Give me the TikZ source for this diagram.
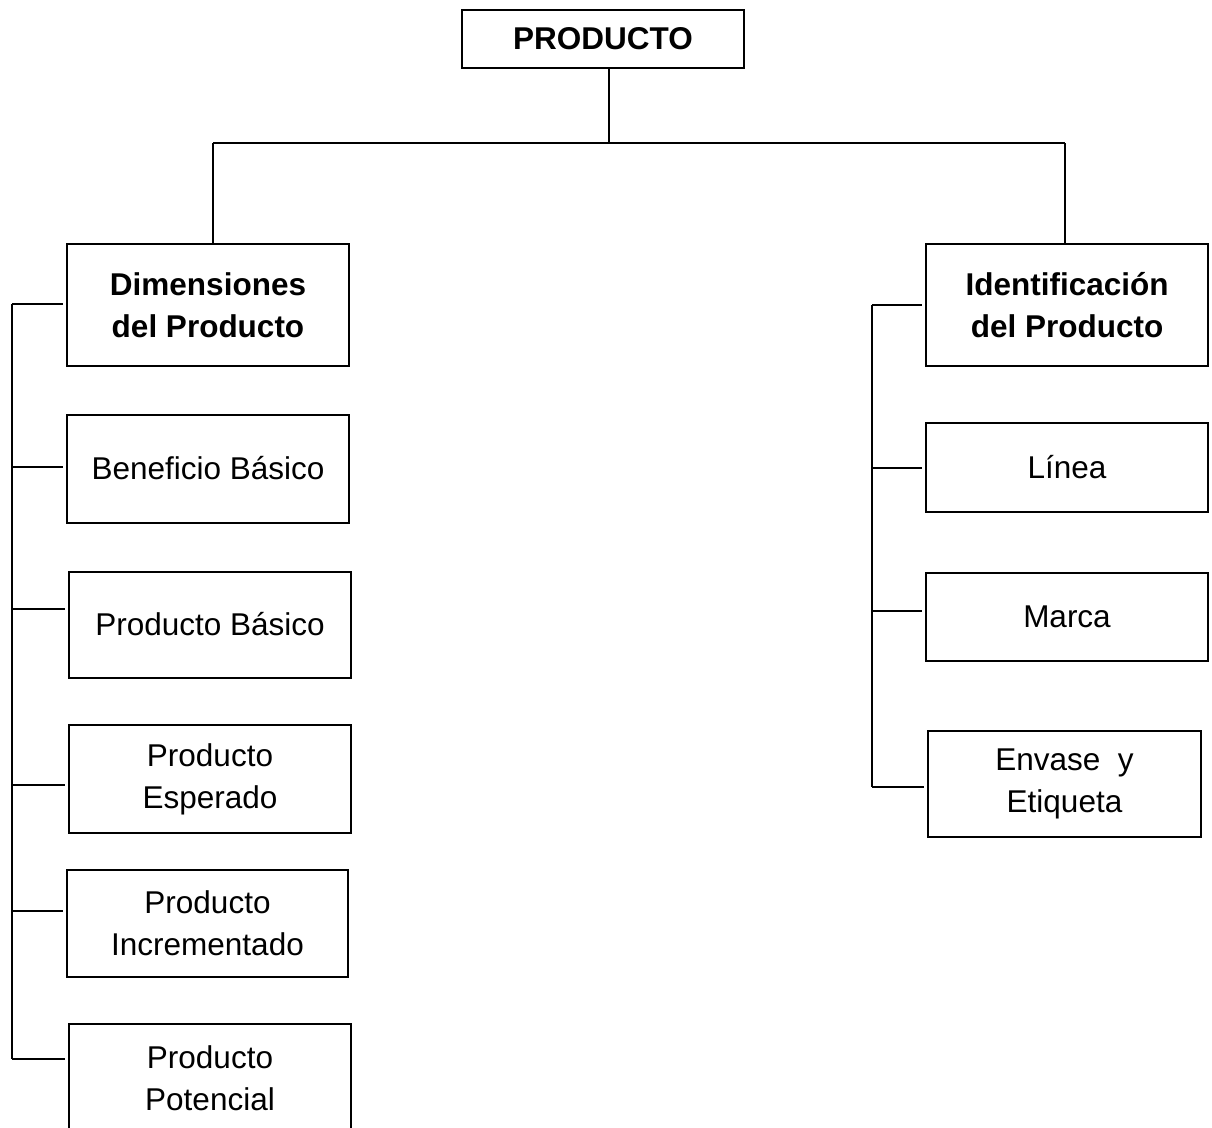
\documentclass[tikz,border=0pt]{standalone}
\usepackage{fontspec}
\setmainfont{Liberation Sans}
\begin{document}
\begin{tikzpicture}[x=1pt,y=-1pt,
  box/.style={draw=black, line width=2pt, inner sep=0pt, align=center,
    font=\fontsize{31.5}{42}\selectfont},
  head/.style={box, font=\fontsize{31.5}{42}\selectfont\bfseries},
  link/.style={draw=black, line width=1.8pt}]
\useasboundingbox (0,0) rectangle (1212,1127);

% top node
\node[head, minimum width=282pt, minimum height=58pt] (prod) at (603,39) {PRODUCTO};

% left column
\node[head, minimum width=282pt, minimum height=122pt] (dim) at (208,305) {Dimensiones\\del Producto};
\node[box, minimum width=282pt, minimum height=108pt] (ben) at (208,469) {\raisebox{2pt}{Beneficio Básico}};
\node[box, minimum width=282pt, minimum height=106pt] (pb) at (210,625) {\raisebox{2pt}{Producto Básico}};
\node[box, minimum width=282pt, minimum height=108pt] (pe) at (210,779) {Producto\\Esperado};
\node[box, minimum width=281pt, minimum height=107pt] (pi) at (207.5,923.5) {Producto\\Incrementado};
\node[box, minimum width=282pt, minimum height=108pt] (pp) at (210,1078) {Producto\\Potencial};

% right column
\node[head, minimum width=282pt, minimum height=122pt] (ide) at (1067,305) {Identificación\\del Producto};
\node[box, minimum width=282pt, minimum height=89pt] (lin) at (1067,467.5) {Línea};
\node[box, minimum width=282pt, minimum height=88pt] (mar) at (1067,617) {Marca};
\node[box, minimum width=273pt, minimum height=106pt] (env) at (1064.5,784) {Envase~ y\\Etiqueta};

% top bus
\coordinate (busL) at (213,143);
\coordinate (busR) at (1065,143);
\coordinate (busC) at (609,143);
\draw[link] (prod.south -| busC) -- (busC);
\draw[link] (busL) -- (busR);
\draw[link] (busL) -- (busL |- dim.north);
\draw[link] (busR) -- (busR |- ide.north);

% left spine
\coordinate (l1) at (12,304);
\coordinate (l2) at (12,467);
\coordinate (l3) at (12,609);
\coordinate (l4) at (12,785);
\coordinate (l5) at (12,911);
\coordinate (l6) at (12,1059);
\draw[link] (l1) -- (l6);
\draw[link, shorten >=3pt] (l1) -- (l1 -| dim.west);
\draw[link, shorten >=3pt] (l2) -- (l2 -| ben.west);
\draw[link, shorten >=3pt] (l3) -- (l3 -| pb.west);
\draw[link, shorten >=3pt] (l4) -- (l4 -| pe.west);
\draw[link, shorten >=3pt] (l5) -- (l5 -| pi.west);
\draw[link, shorten >=3pt] (l6) -- (l6 -| pp.west);

% right spine
\coordinate (r1) at (872,305);
\coordinate (r2) at (872,468);
\coordinate (r3) at (872,611);
\coordinate (r4) at (872,787);
\draw[link] (r1) -- (r4);
\draw[link, shorten >=3pt] (r1) -- (r1 -| ide.west);
\draw[link, shorten >=3pt] (r2) -- (r2 -| lin.west);
\draw[link, shorten >=3pt] (r3) -- (r3 -| mar.west);
\draw[link, shorten >=3pt] (r4) -- (r4 -| env.west);
\end{tikzpicture}
\end{document}
